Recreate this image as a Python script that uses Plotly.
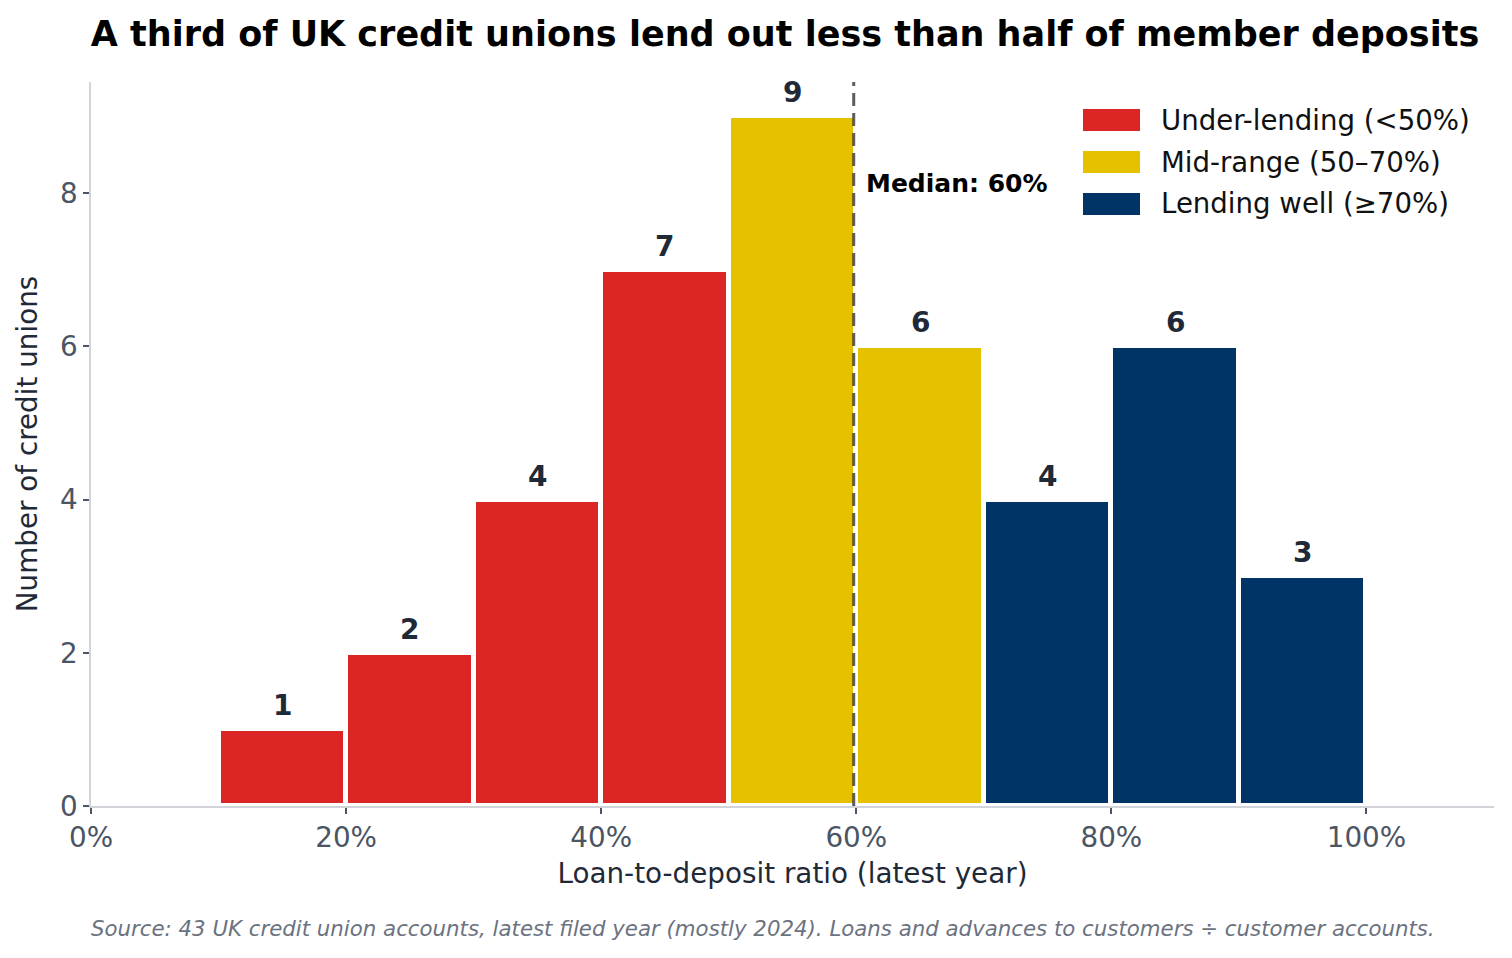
import plotly.graph_objects as go

# histogram of loan-to-deposit ratios (bins of 10 points)
bin_mid = [15, 25, 35, 45, 55, 65, 75, 85, 95]
counts = [1, 2, 4, 7, 9, 6, 4, 6, 3]
bands = ["under", "under", "under", "under", "mid", "mid", "well", "well", "well"]
median = 59.8

band_colors = {"under": "#dc2626", "mid": "#e5c100", "well": "#003366"}
band_names = {"under": "Under-lending (<50%)",
              "mid": "Mid-range (50–70%)",
              "well": "Lending well (≥70%)"}

FONT = "DejaVu Sans"
W, H = 1512, 958
OFF = 8  # page body margin in the browser
# wanted plot area on screen: x 91..1494, y 82..806
L, R, T, B = 91 - OFF, W + OFF - 1494, 82 - OFF, H + OFF - 806
pw, ph = 1494 - 91, 806 - 82


def px_x(x):
    return (x - 91) / pw


def px_y(y):
    return (806 - y) / ph


fig = go.Figure()
fig.add_trace(go.Bar(
    x=bin_mid, y=counts, width=10,
    marker=dict(color=[band_colors[b] for b in bands],
                line=dict(color="white", width=5)),
    showlegend=False, hoverinfo="x+y",
))

# count labels above bars
for xm, c in zip(bin_mid, counts):
    fig.add_annotation(x=xm, y=c, text=f"<b>{c}</b>", showarrow=False,
                       yanchor="bottom", yshift=5,
                       font=dict(family=FONT, size=28, color="#1f2937"))

# median line
fig.add_shape(type="line", x0=median, x1=median, y0=0, y1=1, yref="y domain",
              line=dict(color="rgba(30,30,30,0.72)", width=3, dash="13px,7px"))
fig.add_annotation(x=median + 0.8, y=8.13, text=f"<b>Median: {median:.0f}%</b>",
                   showarrow=False, xanchor="left", yanchor="middle",
                   font=dict(family=FONT, size=25, color="black"))

# legend drawn by hand (matplotlib-style long swatches)
for i, key in enumerate(["under", "mid", "well"]):
    yc = 120 + i * 42
    fig.add_shape(type="rect", xref="paper", yref="paper",
                  x0=px_x(1083), x1=px_x(1140),
                  y0=px_y(yc + 11), y1=px_y(yc - 11),
                  fillcolor=band_colors[key], line=dict(width=0))
    fig.add_annotation(xref="paper", yref="paper", x=px_x(1159),
                       y=px_y(yc), text=band_names[key], showarrow=False,
                       xanchor="left", yanchor="middle",
                       font=dict(family=FONT, size=27.6, color="#111111"))

fig.add_annotation(xref="paper", yref="paper", x=px_x(89), y=px_y(928),
                   text="<i>Source: 43 UK credit union accounts, latest filed year (mostly 2024). "
                        "Loans and advances to customers ÷ customer accounts.</i>",
                   showarrow=False, xanchor="left", yanchor="middle",
                   font=dict(family=FONT, size=21.3, color="#6b7280"))

axis_common = dict(showgrid=False, zeroline=False, showline=True,
                   linecolor="#d1d5db", linewidth=1.5,
                   ticks="outside", ticklen=6, tickwidth=1.5, tickcolor="#4b5563",
                   tickfont=dict(family=FONT, size=27.8, color="#4b5563"))

fig.update_layout(
    width=W, height=H,
    margin=dict(l=L, r=R, t=T, b=B),
    plot_bgcolor="white", paper_bgcolor="white",
    bargap=0,
    title=dict(text="<b>A third of UK credit unions lend out less than half of member deposits</b>",
               x=px_x(785), xref="paper", xanchor="center",
               y=1 - (34 - OFF) / H, yanchor="middle",
               font=dict(family=FONT, size=35, color="black")),
    xaxis=dict(range=[0, 110], tickvals=[0, 20, 40, 60, 80, 100],
               ticktext=["0%", "20%", "40%", "60%", "80%", "100%"],
               title=dict(text="Loan-to-deposit ratio (latest year)", standoff=10,
                          font=dict(family=FONT, size=27.8, color="#1f2937")),
               **axis_common),
    yaxis=dict(range=[0, 9.45], tickvals=[0, 2, 4, 6, 8],
               title=dict(text="Number of credit unions", standoff=14,
                          font=dict(family=FONT, size=27.8, color="#1f2937")),
               **axis_common),
)

fig.write_html("out.html")
